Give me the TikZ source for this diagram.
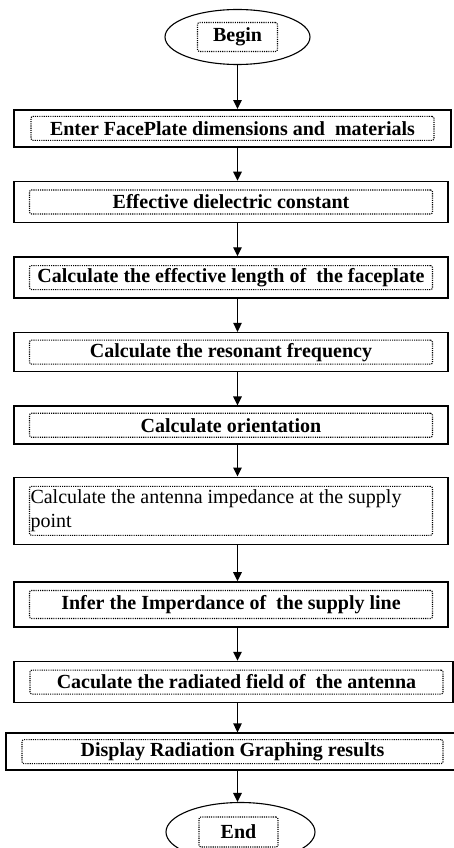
\documentclass[tikz,border=0pt]{standalone}
\usepackage{fontspec}
\setmainfont{Liberation Serif}
\usetikzlibrary{arrows.meta,positioning,shapes.geometric}

\begin{document}
\begin{tikzpicture}[
  node distance=33pt,
  stepbox/.style={draw,line width=1.6pt,minimum width=434pt,inner sep=0pt},
  term/.style={draw,ellipse,line width=1.1pt,minimum width=145pt,minimum height=55pt,inner sep=0pt},
  txt/.style={draw,dash pattern=on 1.1pt off 1.1pt,line width=1.1pt,rounded corners=2pt,minimum width=403pt,minimum height=24pt,inner sep=1pt,
    font=\fontsize{20}{24}\selectfont\bfseries,align=center},
  arrow/.style={-{Triangle[length=9pt,width=8.5pt]},line width=1.3pt}
]
\useasboundingbox (0,0) rectangle (454pt,-848pt);
\node[term] (begin) at (237.5pt,-37pt) {};
\node[txt,minimum width=80pt,minimum height=29pt] at (begin) {Begin};
\node[stepbox,minimum width=437pt,minimum height=37pt,below=of begin,xshift=-5pt,yshift=-11pt] (b1) {};
\node[txt] at (b1) {Enter FacePlate dimensions and~ materials};
\node[stepbox,minimum height=41pt,below=of b1,xshift=-1.5pt] (b2) {};
\node[txt] at (b2) {Effective dielectric constant};
\node[stepbox,minimum height=41pt,below=of b2] (b3) {};
\node[txt] at (b3) {Calculate the effective length of~ the faceplate};
\node[stepbox,minimum height=39pt,below=of b3] (b4) {};
\node[txt] at (b4) {Calculate the resonant frequency};
\node[stepbox,minimum height=38pt,below=of b4] (b5) {};
\node[txt] at (b5) {Calculate orientation};
\node[stepbox,minimum height=67pt,below=of b5,yshift=1.5pt] (b6) {};
\node[txt,minimum height=49pt,text width=401pt,align=flush left,font=\fontsize{20}{24}\selectfont] at (b6)
  {Calculate the antenna impedance at the supply\\point};
\node[stepbox,minimum height=45pt,below=of b6,yshift=-3pt] (b7) {};
\node[txt,minimum height=28pt] at (b7) {Infer the Imperdance of~ the supply line};
\node[stepbox,minimum width=439pt,minimum height=41pt,below=of b7,xshift=2.5pt] (b8) {};
\node[txt,minimum width=413pt,xshift=3pt] at (b8) {Caculate the radiated field of~ the antenna};
\node[stepbox,minimum width=451pt,minimum height=37pt,below=of b8,xshift=-2pt,yshift=4pt] (b9) {};
\node[txt,minimum width=421pt,xshift=1pt] at (b9) {Display Radiation Graphing results};
\node[term,minimum width=149pt,minimum height=59pt,below=of b9,xshift=9pt,yshift=2pt] (end) {};
\node[txt,minimum width=79pt,minimum height=30pt,xshift=-2pt] at (end) {End};
\draw[arrow] (begin.south) -- (begin.south |- b1.north);
\draw[arrow] (b1.south -| begin) -- (b2.north -| begin);
\draw[arrow] (b2.south -| begin) -- (b3.north -| begin);
\draw[arrow] (b3.south -| begin) -- (b4.north -| begin);
\draw[arrow] (b4.south -| begin) -- (b5.north -| begin);
\draw[arrow] (b5.south -| begin) -- (b6.north -| begin);
\draw[arrow] (b6.south -| begin) -- (b7.north -| begin);
\draw[arrow] (b7.south -| begin) -- (b8.north -| begin);
\draw[arrow] (b8.south -| begin) -- (b9.north -| begin);
\draw[arrow] (b9.south -| begin) -- (begin |- end.north);
\end{tikzpicture}
\end{document}
